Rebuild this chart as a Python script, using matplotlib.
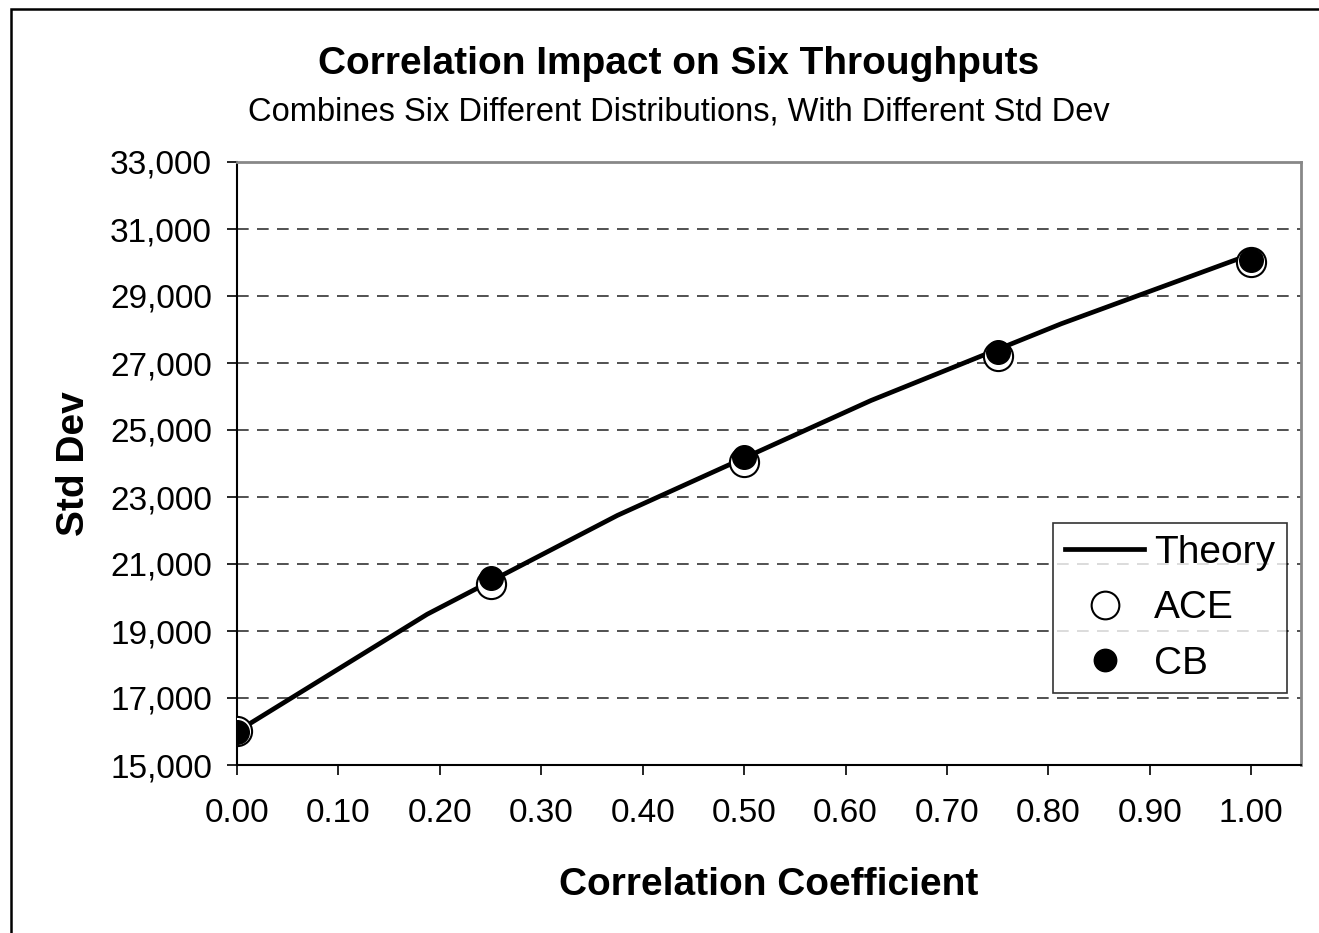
import matplotlib
matplotlib.use('Agg')
import matplotlib.pyplot as plt
from matplotlib.patches import Rectangle
from matplotlib.ticker import FuncFormatter

plt.rcParams['font.family'] = ['Liberation Sans', 'DejaVu Sans']

# Données
theory_rho = [0.0, 0.1875, 0.375, 0.625, 0.8125, 1.0]
theory_sd = [16000, 19500, 22450, 25880, 28170, 30250]

points_rho = [0.0, 0.25, 0.5, 0.75, 1.0]
ace_sd = [16010, 20400, 24040, 27210, 30020]
cb_sd = [16000, 20580, 24190, 27330, 30070]

x_ticks = [0.0, 0.1, 0.2, 0.3, 0.4, 0.5, 0.6, 0.7, 0.8, 0.9, 1.0]
y_ticks = list(range(15000, 33001, 2000))

fig = plt.figure(figsize=(13.19, 9.33), dpi=100)
ax = fig.add_axes([237 / 1319, 1 - 765 / 933, 1064 / 1319, 603 / 933])

# Cadre extérieur
fig.patches.append(Rectangle((11 / 1319, -0.1), 1.2, 1 - 9 / 933 + 0.1,
                             transform=fig.transFigure, fill=False,
                             edgecolor='black', linewidth=1.8))

ax.plot(theory_rho, theory_sd, color='black', linewidth=3.4, label='Theory', zorder=3)
ax.plot(points_rho, ace_sd, linestyle='none', marker='o', markersize=21,
        markerfacecolor='white', markeredgecolor='black', markeredgewidth=1.5,
        label='ACE', zorder=4)
ax.plot(points_rho, cb_sd, linestyle='none', marker='o', markersize=17,
        markerfacecolor='black', markeredgecolor='black', label='CB', zorder=5)

ax.set_xlim(0, 1.049)
ax.set_ylim(15000, 33000)
ax.set_xticks(x_ticks)
ax.set_yticks(y_ticks)
ax.xaxis.set_major_formatter(FuncFormatter(lambda v, p: f'{v:.2f}'))
ax.yaxis.set_major_formatter(FuncFormatter(lambda v, p: f'{v:,.0f}'))
ax.tick_params(axis='both', direction='out', length=7, width=1.2, labelsize=24)
ax.tick_params(axis='x', pad=17)
ax.tick_params(axis='y', pad=11)

for y in y_ticks[1:-1]:
    ax.axhline(y, color='#333333', linewidth=1.2, linestyle=(0, (7, 5)), zorder=1)

for s in ['left', 'bottom']:
    ax.spines[s].set_color('black')
    ax.spines[s].set_linewidth(1.5)
for s in ['top', 'right']:
    ax.spines[s].set_color('#888888')
    ax.spines[s].set_linewidth(2)

ax.set_xlabel('Correlation Coefficient', fontsize=28, fontweight='bold', labelpad=27)
ax.set_ylabel('Std Dev', fontsize=28, fontweight='bold', labelpad=13)

fig.text(679 / 1319, 1 - 64 / 933, 'Correlation Impact on Six Throughputs',
         fontsize=28, fontweight='bold', ha='center', va='center')
fig.text(679 / 1319, 1 - 112 / 933, 'Combines Six Different Distributions, With Different Std Dev',
         fontsize=23.5, ha='center', va='center')

leg = ax.legend(loc='upper left', bbox_to_anchor=((1053 - 237) / 1064, (765 - 523) / 603),
                borderaxespad=0, fontsize=28, frameon=True, fancybox=False,
                handlelength=2.05, handletextpad=0.25, labelspacing=0.5,
                borderpad=0.3, markerscale=0.95)
leg.get_frame().set_edgecolor('black')
leg.get_frame().set_linewidth(1.2)

plt.savefig('out.png', dpi=100)
